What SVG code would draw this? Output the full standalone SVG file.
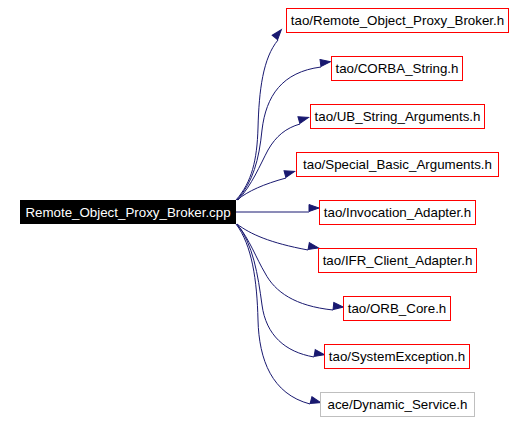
<svg xmlns="http://www.w3.org/2000/svg" width="526" height="422" viewBox="0 0 526 422">
<style>
.n rect{fill:#fff;stroke:#ff0000;stroke-width:1}
.n.g rect{stroke:#bfbfbf}
.n text{font-family:"Liberation Sans",Arial,sans-serif;font-size:13.33px;fill:#000;text-anchor:middle}
#main rect{fill:#000;stroke:#000}
#main text{fill:#fff}
#edges path{fill:none;stroke:#191970;stroke-width:1;marker-end:url(#ah)}
</style>
<defs>
<marker id="ah" markerUnits="userSpaceOnUse" markerWidth="12" markerHeight="10" refX="0" refY="4" orient="auto" viewBox="0 -4 12 8" overflow="visible">
<path d="M0,-3.5 L10,0 L0,3.5 z" fill="#191970" stroke="#191970"/>
</marker>
</defs>
<rect width="526" height="422" fill="#fff"/>
<g id="edges">
<path d="M236,200 C252,182 257,160 258,128 C259,90 263,58 278,40"/>
<path d="M237,200 C253,182 259,160 262,130 C266,96 282,72 321,67"/>
<path d="M238,200 C252,185 260,165 268,150 C276,136 286,128 300,124"/>
<path d="M237,200 C248,191 264,184 286,178"/>
<path d="M235,212 L309,212"/>
<path d="M237,224 C250,234 270,243 308,250"/>
<path d="M237,224 C250,240 256,258 265,273 C275,292 295,306 333,310"/>
<path d="M237,224 C253,244 258,275 262,305 C266,335 285,352 314,357"/>
<path d="M236,224 C252,245 257,280 258,320 C259,360 272,394 310,404"/>
</g>
<g id="main" class="n"><rect x="20.5" y="200.5" width="215" height="23"/><text x="128" y="216.5">Remote_Object_Proxy_Broker.cpp</text></g>
<g id="n1" class="n"><rect x="286.5" y="8.5" width="222" height="24"/><text x="397.5" y="25">tao/Remote_Object_Proxy_Broker.h</text></g>
<g id="n2" class="n"><rect x="331.5" y="56.5" width="131" height="24"/><text x="397" y="73">tao/CORBA_String.h</text></g>
<g id="n3" class="n"><rect x="310.5" y="104.5" width="174" height="24"/><text x="397.5" y="121">tao/UB_String_Arguments.h</text></g>
<g id="n4" class="n"><rect x="296.5" y="152.5" width="202" height="24"/><text x="397.5" y="169">tao/Special_Basic_Arguments.h</text></g>
<g id="n5" class="n"><rect x="319.5" y="200.5" width="156" height="24"/><text x="397.5" y="217">tao/Invocation_Adapter.h</text></g>
<g id="n6" class="n"><rect x="318.5" y="248.5" width="158" height="24"/><text x="397.5" y="265">tao/IFR_Client_Adapter.h</text></g>
<g id="n7" class="n"><rect x="343.5" y="296.5" width="107" height="24"/><text x="397" y="313">tao/ORB_Core.h</text></g>
<g id="n8" class="n"><rect x="324.5" y="344.5" width="145" height="24"/><text x="397" y="361">tao/SystemException.h</text></g>
<g id="n9" class="n g"><rect x="320.5" y="392.5" width="154" height="24"/><text x="397.5" y="409">ace/Dynamic_Service.h</text></g>
</svg>
